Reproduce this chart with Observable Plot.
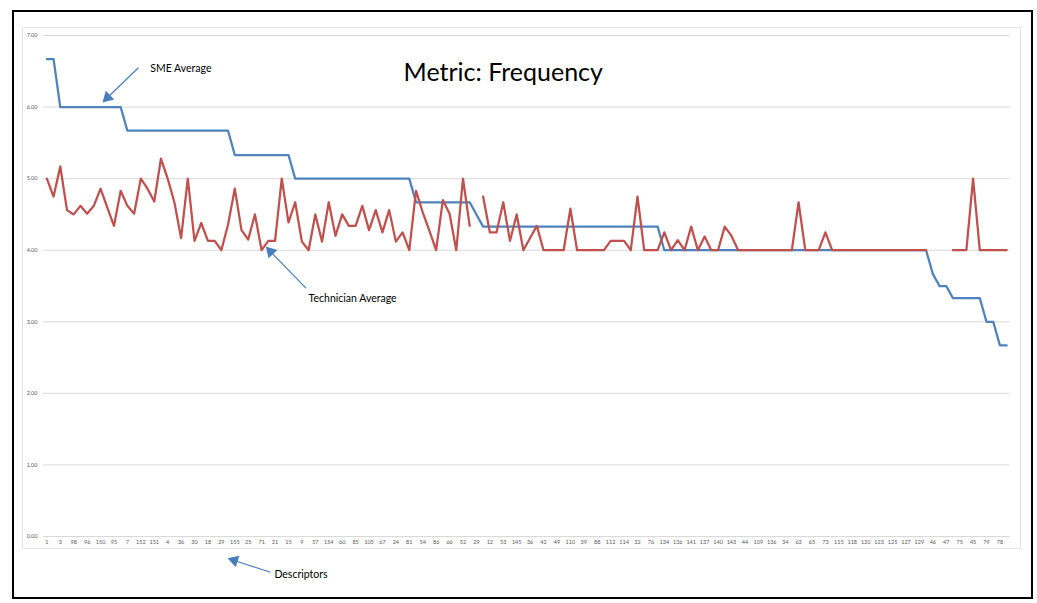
<!DOCTYPE html>
<html>
<head>
<meta charset="utf-8">
<script src="https://cdn.jsdelivr.net/npm/d3@7"></script>
<script src="https://cdn.jsdelivr.net/npm/@observablehq/plot@0.6"></script>
<style>
  html, body { margin: 0; padding: 0; background: #fff; }
  #wrap { position: relative; width: 1037px; height: 603px; overflow: hidden; }
  #outer { position: absolute; left: 12px; top: 10px; width: 1017px; height: 585px; border: 2px solid #000; }
  #inner { position: absolute; left: 22px; top: 27px; width: 997px; height: 520px; border: 1px solid #e3e3e3; }
  #chart { position: absolute; left: 20px; top: 20px; }
</style>
</head>
<body>
<div id="wrap">
  <div id="outer"></div>
  <div id="inner"></div>
  <div id="chart"></div>
</div>
<script>
// Tick labels shown on the x axis (every other descriptor)
const tickLabels = ["1","3","98","96","150","95","7","152","151","4","36","30","18","29","155","25","71","21","15","9","57","154","60","85","105","67","24","81","54","86","66","52","29","12","53","145","36","42","49","110","39","88","112","114","32","76","134","136","141","137","140","143","44","109","136","34","63","65","73","115","118","120","123","125","127","129","46","47","75","45","79","78"];

// SME Average (blue)
const smeAverage = [
  6.67,6.67,6.00,6.00,6.00,6.00,6.00,6.00,6.00,6.00,
  6.00,6.00,5.67,5.67,5.67,5.67,5.67,5.67,5.67,5.67,
  5.67,5.67,5.67,5.67,5.67,5.67,5.67,5.67,5.33,5.33,
  5.33,5.33,5.33,5.33,5.33,5.33,5.33,5.00,5.00,5.00,
  5.00,5.00,5.00,5.00,5.00,5.00,5.00,5.00,5.00,5.00,
  5.00,5.00,5.00,5.00,5.00,4.67,4.67,4.67,4.67,4.67,
  4.67,4.67,4.67,4.67,4.50,4.33,4.33,4.33,4.33,4.33,
  4.33,4.33,4.33,4.33,4.33,4.33,4.33,4.33,4.33,4.33,
  4.33,4.33,4.33,4.33,4.33,4.33,4.33,4.33,4.33,4.33,
  4.33,4.33,4.00,4.00,4.00,4.00,4.00,4.00,4.00,4.00,
  4.00,4.00,4.00,4.00,4.00,4.00,4.00,4.00,4.00,4.00,
  4.00,4.00,4.00,4.00,4.00,4.00,4.00,4.00,4.00,4.00,
  4.00,4.00,4.00,4.00,4.00,4.00,4.00,4.00,4.00,4.00,
  4.00,4.00,3.67,3.50,3.50,3.33,3.33,3.33,3.33,3.33,
  3.00,3.00,2.67,2.67
];

// Technician Average (red); null = no value (gap in line)
const technicianAverage = [
  5.00,4.75,5.17,4.56,4.50,4.62,4.51,4.62,4.86,4.60,
  4.34,4.83,4.62,4.51,5.00,4.86,4.68,5.28,5.00,4.67,
  4.17,5.00,4.13,4.38,4.13,4.13,4.00,4.36,4.86,4.28,
  4.15,4.50,4.00,4.13,4.13,5.00,4.39,4.67,4.12,4.00,
  4.50,4.12,4.67,4.20,4.50,4.34,4.34,4.62,4.28,4.56,
  4.25,4.56,4.12,4.25,4.00,4.83,4.53,4.27,4.00,4.70,
  4.51,4.00,5.00,4.34,null,4.75,4.25,4.25,4.67,4.13,
  4.50,4.00,4.17,4.34,4.00,4.00,4.00,4.00,4.58,4.00,
  4.00,4.00,4.00,4.00,4.13,4.13,4.13,4.00,4.75,4.00,
  4.00,4.00,4.25,4.00,4.14,4.00,4.33,4.00,4.19,4.00,
  4.00,4.33,4.20,4.00,4.00,4.00,4.00,4.00,4.00,4.00,
  4.00,4.00,4.67,4.00,4.00,4.00,4.25,4.00,4.00,4.00,
  4.00,4.00,4.00,4.00,4.00,4.00,4.00,4.00,4.00,4.00,
  4.00,4.00,null,null,null,4.00,4.00,4.00,5.00,4.00,
  4.00,4.00,4.00,4.00
];

const yTicks = [0,1,2,3,4,5,6,7];

const sme = smeAverage.map((v, i) => ({i, v}));
const tech = technicianAverage.map((v, i) => ({i, v: v == null ? undefined : v}));
const xTickIdx = tickLabels.map((_, k) => k * 2);

const annoColor = "#4a7ebb";
const font = "Lato, 'Open Sans', sans-serif";

// annotation callouts (data-space positions)
const callouts = [
  {x1: 13.64, y1: 6.55, x2: 9.04, y2: 6.133, rot: 226, tx: 15.4, ty: 6.54, t: "SME Average"},
  {x1: 38.6, y1: 3.47, x2: 33.33, y2: 3.98, rot: -43, tx: 39.0, ty: 3.33, t: "Technician Average"},
  {x1: 33.3, y1: -0.50, x2: 27.92, y2: -0.335, rot: -72, tx: 33.9, ty: -0.53, t: "Descriptors"}
];

const chart = Plot.plot({
  width: 1000,
  height: 575,
  marginLeft: 23,
  marginRight: 10.5,
  marginTop: 15,
  marginBottom: 59,
  style: {fontFamily: font, fontSize: "6px", color: "#595959", background: "transparent"},
  x: {domain: [-0.5, smeAverage.length - 0.5]},
  y: {domain: [0, 7]},
  marks: [
    Plot.ruleY(yTicks, {stroke: "#d9d9d9", strokeWidth: 1}),
    Plot.axisY(yTicks, {tickSize: 0, tickPadding: 6, tickFormat: d3.format(".2f"), label: null, fill: "#595959", fontSize: 5.5}),
    Plot.axisX(xTickIdx, {tickSize: 0, tickPadding: 4, tickFormat: i => tickLabels[i / 2], label: null, fill: "#595959", fontSize: 5.5}),
    Plot.line(sme, {x: "i", y: "v", stroke: "#4F81BD", strokeWidth: 2.25, strokeLinejoin: "round"}),
    Plot.line(tech, {x: "i", y: "v", stroke: "#C0504D", strokeWidth: 2.25, strokeLinejoin: "round"}),
    // Title
    Plot.text(["Metric: Frequency"], {x: () => 68, y: () => 6.47, text: d => d, fontSize: 25, fill: "#000", fontFamily: font}),
    // Annotations
    Plot.link(callouts, {x1: "x1", y1: "y1", x2: "x2", y2: "y2", stroke: annoColor, strokeWidth: 1.2}),
    Plot.dot(callouts, {x: "x2", y: "y2", symbol: "triangle", r: 4.5, fill: annoColor, stroke: "none", rotate: "rot"}),
    Plot.text(callouts, {x: "tx", y: "ty", text: "t", textAnchor: "start", fontSize: 10.5, fill: "#000", fontFamily: font})
  ]
});
document.getElementById("chart").appendChild(chart);
</script>
</body>
</html>
